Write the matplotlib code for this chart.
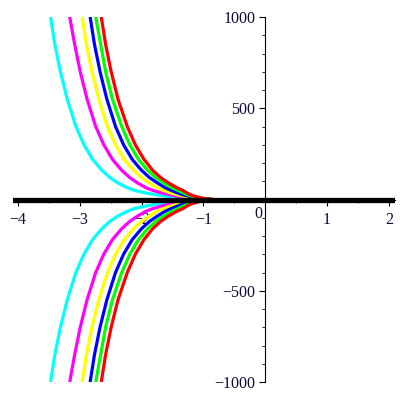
import numpy as np
import matplotlib.pyplot as plt

# values (upper branch; lower branch is its mirror)
levels = [1000, 850, 700, 550, 400, 300, 220, 160, 120, 90, 65, 50, 35, 25, 16, 10, 5, 2]
x_cyan = [-3.47, -3.40, -3.31, -3.20, -3.06, -2.93, -2.79, -2.64, -2.51, -2.38,
          -2.23, -2.12, -1.92, -1.75, -1.55, -1.38, -1.18, -0.98]
x_magenta = [-3.16, -3.08, -2.99, -2.88, -2.74, -2.61, -2.47, -2.32, -2.19, -2.06,
             -1.93, -1.82, -1.66, -1.52, -1.37, -1.24, -1.09, -0.94]
x_yellow = [-2.96, -2.89, -2.80, -2.69, -2.55, -2.42, -2.28, -2.13, -2.00, -1.87,
            -1.75, -1.65, -1.52, -1.41, -1.28, -1.17, -1.04, -0.91]
x_blue = [-2.83, -2.76, -2.67, -2.56, -2.42, -2.29, -2.15, -2.00, -1.87, -1.74,
          -1.62, -1.52, -1.41, -1.32, -1.21, -1.12, -1.01, -0.89]
x_green = [-2.74, -2.66, -2.58, -2.47, -2.32, -2.19, -2.05, -1.90, -1.77, -1.64,
           -1.51, -1.41, -1.32, -1.25, -1.16, -1.08, -0.99, -0.87]
x_red = [-2.65, -2.58, -2.49, -2.38, -2.23, -2.10, -1.96, -1.82, -1.69, -1.56,
         -1.43, -1.33, -1.26, -1.20, -1.12, -1.05, -0.97, -0.85]

curves = [(x_cyan, '#00ffff'), (x_magenta, '#ff00ff'), (x_yellow, '#ffff00'),
          (x_blue, '#0000ff'), (x_green, '#00ff00'), (x_red, '#ff0000')]

xticks = [-4, -3, -2, -1, 1, 2]
yticks = [-1000, -500, 500, 1000]

plt.rcParams['font.family'] = 'Liberation Serif'

fig = plt.figure(figsize=(4, 4), dpi=100)
ax = fig.add_axes([0.032, 0.045, 0.956, 0.9125])

y = np.array(levels)
for xs, c in curves:
    ax.plot(xs, y, color=c, lw=2.3, solid_capstyle='butt')
    ax.plot(xs, -y, color=c, lw=2.3, solid_capstyle='butt')

ax.axhline(0, color='black', lw=3.8, zorder=5)

ax.set_xlim(-4.08, 2.1)
ax.set_ylim(-1000, 1000)

for s in ['top', 'right']:
    ax.spines[s].set_visible(False)
ax.spines['left'].set_position(('data', 0))
ax.spines['bottom'].set_position(('data', 0))
ax.spines['left'].set_linewidth(0.8)
ax.spines['bottom'].set_linewidth(0.8)

ax.set_xticks(xticks)
ax.set_xticklabels(['\u2212' + str(-t) if t < 0 else str(t) for t in xticks])
ax.set_xticks(np.arange(-4, 2.5, 0.5), minor=True)
ax.set_yticks(yticks)
ax.set_yticklabels(['\u2212' + str(-t) if t < 0 else str(t) for t in yticks])
ax.set_yticks(np.arange(-1000, 1001, 100), minor=True)

ax.tick_params(axis='both', which='major', length=4, width=0.8,
               labelsize=11.5, labelcolor='#0a0a3a')
ax.tick_params(axis='both', which='minor', length=2.5, width=0.6)
ax.tick_params(axis='x', pad=5)
ax.tick_params(axis='y', pad=3)

ax.text(-0.11, -80, '0', fontsize=11.5, color='#0a0a3a', ha='center', va='center')

plt.savefig('out.png', dpi=100)
